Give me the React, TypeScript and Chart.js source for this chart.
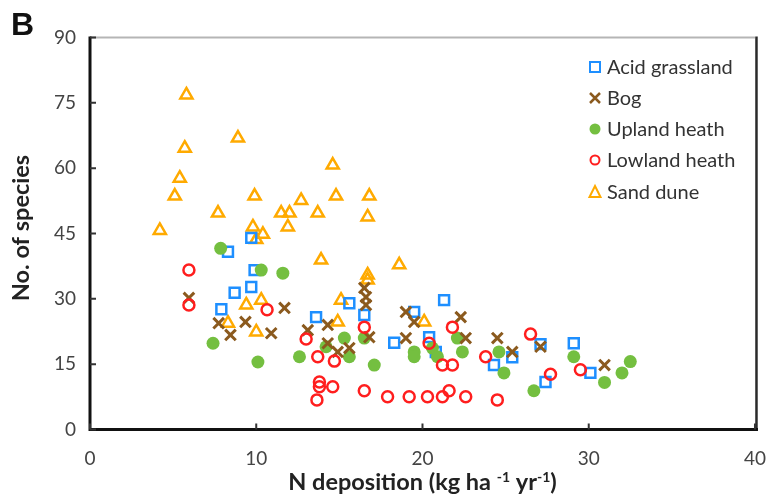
import React, { useEffect, useRef } from "react";
import { Chart, registerables } from "chart.js";

Chart.register(...registerables);

const seriesNames = ["Acid grassland", "Bog", "Upland heath", "Lowland heath", "Sand dune"];

const acidX = [7.9, 8.3, 8.7, 9.7, 9.7, 9.9, 13.6, 15.6, 16.5, 18.3, 19.5, 20.4, 20.8, 21.3, 24.3, 25.4, 27.1, 27.4, 29.1, 30.1];
const acidY = [27.6, 40.8, 31.4, 32.7, 44, 36.6, 25.8, 29, 26.3, 19.9, 27, 21.2, 17.8, 29.7, 14.8, 16.6, 19.6, 10.9, 19.8, 13];

const bogX = [5.95, 7.74, 8.45, 9.35, 10.9, 11.7, 13.1, 14.3, 14.3, 14.9, 15.6, 16.5, 16.6, 16.6, 16.8, 19.0, 19.5, 19.0, 22.3, 22.6, 24.5, 25.4, 27.1, 30.95];
const bogY = [30.2, 24.4, 21.7, 24.7, 22.1, 27.9, 22.8, 24, 19.8, 17.8, 18.7, 32.5, 30.4, 28.6, 21.2, 27, 24.7, 21, 25.8, 21, 21, 17.8, 19, 14.8];

const uplandX = [7.4, 7.86, 10.1, 10.3, 11.6, 12.6, 14.2, 15.3, 15.6, 16.5, 17.1, 19.5, 19.5, 20.6, 20.9, 22.1, 22.4, 24.6, 24.9, 26.7, 29.1, 30.95, 32, 32.5];
const uplandY = [19.8, 41.6, 15.5, 36.6, 35.9, 16.7, 19, 21, 16.7, 21, 14.8, 17.8, 16.7, 18.7, 16.7, 21, 17.8, 17.8, 13, 8.9, 16.7, 10.8, 13, 15.6];

const lowlandX = [5.95, 5.95, 10.65, 13.0, 13.7, 13.8, 13.8, 13.65, 14.7, 14.6, 16.5, 16.5, 17.9, 19.2, 20.3, 20.4, 21.2, 21.8, 21.2, 21.6, 21.8, 22.6, 23.8, 24.5, 26.5, 27.7, 29.5];
const lowlandY = [36.6, 28.6, 27.5, 20.8, 16.7, 10.9, 9.8, 6.8, 15.7, 9.8, 23.5, 8.9, 7.5, 7.5, 7.5, 19.8, 14.8, 14.8, 7.5, 8.9, 23.5, 7.5, 16.7, 6.8, 21.9, 12.7, 13.7];

const sandX = [4.2, 5.1, 5.4, 5.7, 5.8, 7.7, 8.9, 9.9, 9.8, 10.0, 10.4, 11.5, 12.0, 11.9, 12.7, 13.7, 14.6, 14.8, 13.9, 16.8, 16.7, 16.7, 16.7, 15.1, 14.9, 18.6, 20.1, 10.3, 9.4, 8.3, 10.0];
const sandY = [45.7, 53.6, 57.7, 64.6, 76.8, 49.7, 66.9, 53.6, 46.5, 43.6, 44.8, 49.7, 49.7, 46.5, 52.6, 49.7, 60.7, 53.6, 38.9, 53.6, 48.8, 35.5, 34.3, 29.7, 24.7, 37.8, 24.7, 29.7, 28.6, 24.4, 22.4];

const xTicks = [0, 10, 20, 30, 40];
const yTicks = [0, 15, 30, 45, 60, 75, 90];

const BLUE = "#1E8FFF";
const BROWN = "#8B5A1E";
const GREEN = "#74BF40";
const RED = "#FF1E1E";
const ORANGE = "#FFAA00";

const FONT = "Lato";

function pts(xs: number[], ys: number[]) {
  return xs.map((x, i) => ({ x, y: ys[i] }));
}

function drawMarker(ctx: CanvasRenderingContext2D, kind: number, x: number, y: number, s: number) {
  ctx.save();
  ctx.beginPath();
  if (kind === 0) {
    ctx.strokeStyle = BLUE; ctx.lineWidth = 2;
    ctx.strokeRect(x - s / 2, y - s / 2, s, s);
  } else if (kind === 1) {
    ctx.strokeStyle = BROWN; ctx.lineWidth = 2.5;
    const h = s / 2;
    ctx.moveTo(x - h, y - h); ctx.lineTo(x + h, y + h);
    ctx.moveTo(x + h, y - h); ctx.lineTo(x - h, y + h);
    ctx.stroke();
  } else if (kind === 2) {
    ctx.fillStyle = GREEN;
    ctx.arc(x, y, s / 2 + 0.5, 0, Math.PI * 2);
    ctx.fill();
  } else if (kind === 3) {
    ctx.strokeStyle = RED; ctx.lineWidth = 2;
    ctx.arc(x, y, s / 2 - 0.5, 0, Math.PI * 2);
    ctx.stroke();
  } else {
    ctx.strokeStyle = ORANGE; ctx.lineWidth = 2;
    const h = s / 2;
    ctx.moveTo(x, y - h - 1); ctx.lineTo(x + h + 0.5, y + h); ctx.lineTo(x - h - 0.5, y + h); ctx.closePath();
    ctx.stroke();
  }
  ctx.restore();
}

const decorPlugin = {
  id: "decor",
  afterDraw(chart: any) {
    const { ctx, chartArea: a, scales } = chart;
    const xs = scales.x, ys = scales.y;
    ctx.save();
    // frame
    ctx.strokeStyle = "#b5b5b5"; ctx.lineWidth = 2;
    ctx.beginPath(); ctx.moveTo(a.left, a.top); ctx.lineTo(a.right, a.top); ctx.stroke();
    ctx.strokeStyle = "#2a2a2a"; ctx.lineWidth = 2.5;
    ctx.beginPath(); ctx.moveTo(a.right + 1.5, a.top - 1); ctx.lineTo(a.right + 1.5, a.bottom); ctx.stroke();
    ctx.strokeStyle = "#111"; ctx.lineWidth = 3;
    ctx.beginPath(); ctx.moveTo(a.left, a.top - 1); ctx.lineTo(a.left, a.bottom); ctx.lineTo(a.right + 3, a.bottom); ctx.stroke();
    // inward ticks
    ctx.strokeStyle = "#333"; ctx.lineWidth = 2;
    ctx.beginPath();
    yTicks.forEach((v) => { const py = ys.getPixelForValue(v); ctx.moveTo(a.left, py); ctx.lineTo(a.left + 6, py); });
    xTicks.forEach((v) => { const px = xs.getPixelForValue(v); ctx.moveTo(px, a.bottom); ctx.lineTo(px, a.bottom - 6); });
    ctx.stroke();

    // legend
    const rowY = [67, 98, 129, 160, 192];
    ctx.font = `20px ${FONT}`;
    ctx.fillStyle = "#333";
    ctx.textBaseline = "middle";
    ctx.textAlign = "left";
    seriesNames.forEach((name, i) => {
      drawMarker(ctx, i, 595, rowY[i], 10);
      ctx.fillText(name, 607, rowY[i] + 1);
    });

    // y title
    ctx.save();
    ctx.translate(28.5, 228);
    ctx.rotate(-Math.PI / 2);
    ctx.font = `bold 23.5px ${FONT}`;
    ctx.fillStyle = "#222";
    ctx.textAlign = "center";
    ctx.textBaseline = "alphabetic";
    ctx.fillText("No. of species", 0, 0);
    ctx.restore();

    // x title with superscripts
    const mainFont = `bold 23.5px ${FONT}`;
    const supFont = `bold 14px ${FONT}`;
    const parts: [string, boolean][] = [["N deposition (kg ha ", false], ["-1", true], [" yr", false], ["-1", true], [")", false]];
    let total = 0;
    parts.forEach(([t, sup]) => { ctx.font = sup ? supFont : mainFont; total += ctx.measureText(t).width; });
    let cx = (a.left + a.right) / 2 - total / 2;
    const by = 490;
    ctx.fillStyle = "#222";
    ctx.textAlign = "left";
    ctx.textBaseline = "alphabetic";
    parts.forEach(([t, sup]) => {
      ctx.font = sup ? supFont : mainFont;
      ctx.fillText(t, cx, sup ? by - 8 : by);
      cx += ctx.measureText(t).width;
    });

    // panel letter
    ctx.font = `bold 32px "Liberation Sans"`;
    ctx.fillStyle = "#111";
    ctx.textBaseline = "alphabetic";
    ctx.fillText("B", 11, 35);
    ctx.restore();
  },
};

export default function App() {
  const ref = useRef<HTMLCanvasElement | null>(null);
  useEffect(() => {
    if (!ref.current) return;
    const chart = new Chart(ref.current, {
      type: "scatter",
      data: {
        datasets: [
          { label: seriesNames[4], data: pts(sandX, sandY), pointStyle: "triangle", pointRadius: 7, borderColor: ORANGE, backgroundColor: "rgba(0,0,0,0)", pointBorderWidth: 2.5, order: 5 },
          { label: seriesNames[0], data: pts(acidX, acidY), pointStyle: "rect", pointRadius: 7, borderColor: BLUE, backgroundColor: "rgba(0,0,0,0)", pointBorderWidth: 2.5, order: 4 },
          { label: seriesNames[2], data: pts(uplandX, uplandY), pointStyle: "circle", pointRadius: 6.5, borderColor: GREEN, backgroundColor: GREEN, pointBorderWidth: 0, order: 3 },
          { label: seriesNames[1], data: pts(bogX, bogY), pointStyle: "crossRot", pointRadius: 7.5, borderColor: BROWN, backgroundColor: BROWN, pointBorderWidth: 3, order: 2 },
          { label: seriesNames[3], data: pts(lowlandX, lowlandY), pointStyle: "circle", pointRadius: 5.5, borderColor: RED, backgroundColor: "rgba(0,0,0,0)", pointBorderWidth: 2.5, order: 1 },
        ],
      },
      options: {
        responsive: false,
        animation: false,
        layout: { padding: { left: 0, right: 14, top: 37.5, bottom: 0 } },
        plugins: { legend: { display: false }, tooltip: { enabled: false } },
        scales: {
          x: {
            type: "linear", min: 0, max: 40,
            grid: { display: false }, border: { display: false },
            ticks: { stepSize: 10, padding: 10, color: "#444", font: { family: FONT, size: 19 } },
            afterFit: (s: any) => { s.height = 65.5; },
          },
          y: {
            type: "linear", min: 0, max: 90,
            grid: { display: false }, border: { display: false },
            ticks: { stepSize: 15, padding: 6, color: "#444", font: { family: FONT, size: 19 } },
            afterFit: (s: any) => { s.width = 90; },
          },
        },
      } as any,
      plugins: [decorPlugin],
    });
    return () => chart.destroy();
  }, []);
  return (
    <div style={{ position: "fixed", left: 0, top: 0, width: 776, height: 495, background: "#fff" }}>
      <canvas ref={ref} width={776} height={495} />
    </div>
  );
}
